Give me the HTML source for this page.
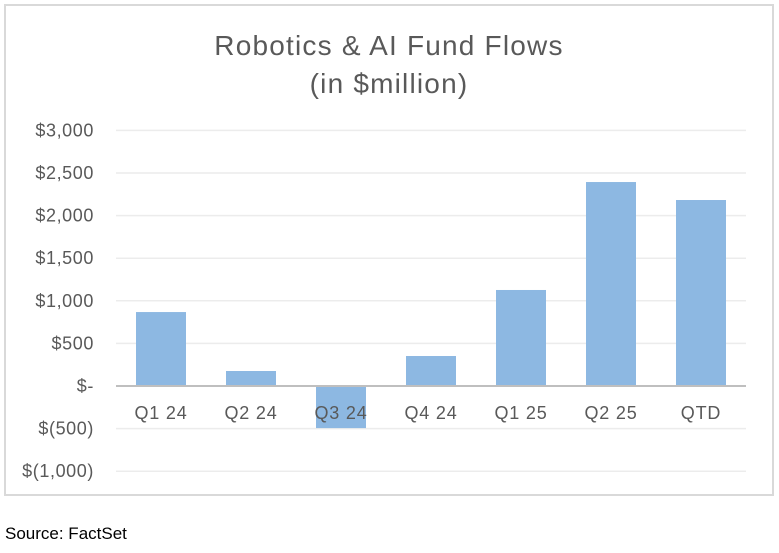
<!DOCTYPE html>
<html><head><meta charset="utf-8"><style>
body{margin:0;background:#fff;width:779px;height:548px;overflow:hidden;font-family:"Liberation Sans",sans-serif}
</style></head><body>
<svg width="779" height="548">
<rect x="5" y="5" width="768" height="490" fill="#fff" stroke="#d9d9d9" stroke-width="2"/>
<text x="389" y="55" text-anchor="middle" font-size="28" letter-spacing="1.2" fill="#595959">Robotics &amp; AI Fund Flows</text>
<text x="389" y="93" text-anchor="middle" font-size="28" letter-spacing="1.2" fill="#595959">(in $million)</text>
<g id="grid"></g><g id="bars"></g><g id="xlabels"></g>
<text x="5" y="539" font-size="17" fill="#000">Source: FactSet</text>
</svg>
<script>
const categories=["Q1 24","Q2 24","Q3 24","Q4 24","Q1 25","Q2 25","QTD"];
const values=[868,176,-494,352,1127,2394,2183];
const ticks=[3000,2500,2000,1500,1000,500,0,-500,-1000];
const tickLabels=["$3,000","$2,500","$2,000","$1,500","$1,000","$500","$-","$(500)","$(1,000)"];
const NS="http://www.w3.org/2000/svg";
const x0=116,x1=746,band=(x1-x0)/categories.length,bw=50;
const y=v=>386-v*0.0852;
const grid=document.getElementById('grid'),bars=document.getElementById('bars'),xl=document.getElementById('xlabels');
function mk(t,a){const e=document.createElementNS(NS,t);for(const k in a)e.setAttribute(k,a[k]);return e;}
ticks.forEach((t,i)=>{
 if(t!==0){const l=mk('line',{x1:x0,x2:x1,y1:y(t),y2:y(t),stroke:'#ececec','stroke-width':1.5});
 
 grid.appendChild(l);}
 const tx=mk('text',{x:94,y:y(t)+6,'text-anchor':'end','font-size':18,'letter-spacing':0.6,fill:'#595959'});
 tx.textContent=tickLabels[i];
 
 grid.appendChild(tx);
});
categories.forEach((c,i)=>{
 const cx=x0+band*(i+0.5),v=values[i];
 const r=mk('rect',{x:cx-bw/2,y:Math.min(y(v),y(0)),width:bw,height:Math.abs(y(v)-y(0)),fill:'#8db8e2'});
 
 bars.appendChild(r);
 const t=mk('text',{x:cx,y:419,'text-anchor':'middle','font-size':18,'letter-spacing':0.8,fill:'#595959'});
 t.textContent=c;
 
 xl.appendChild(t);
});
const ax=mk('line',{x1:x0,x2:x1,y1:y(0),y2:y(0),stroke:'#bfbfbf','stroke-width':2});

bars.appendChild(ax);
</script>
</body></html>
